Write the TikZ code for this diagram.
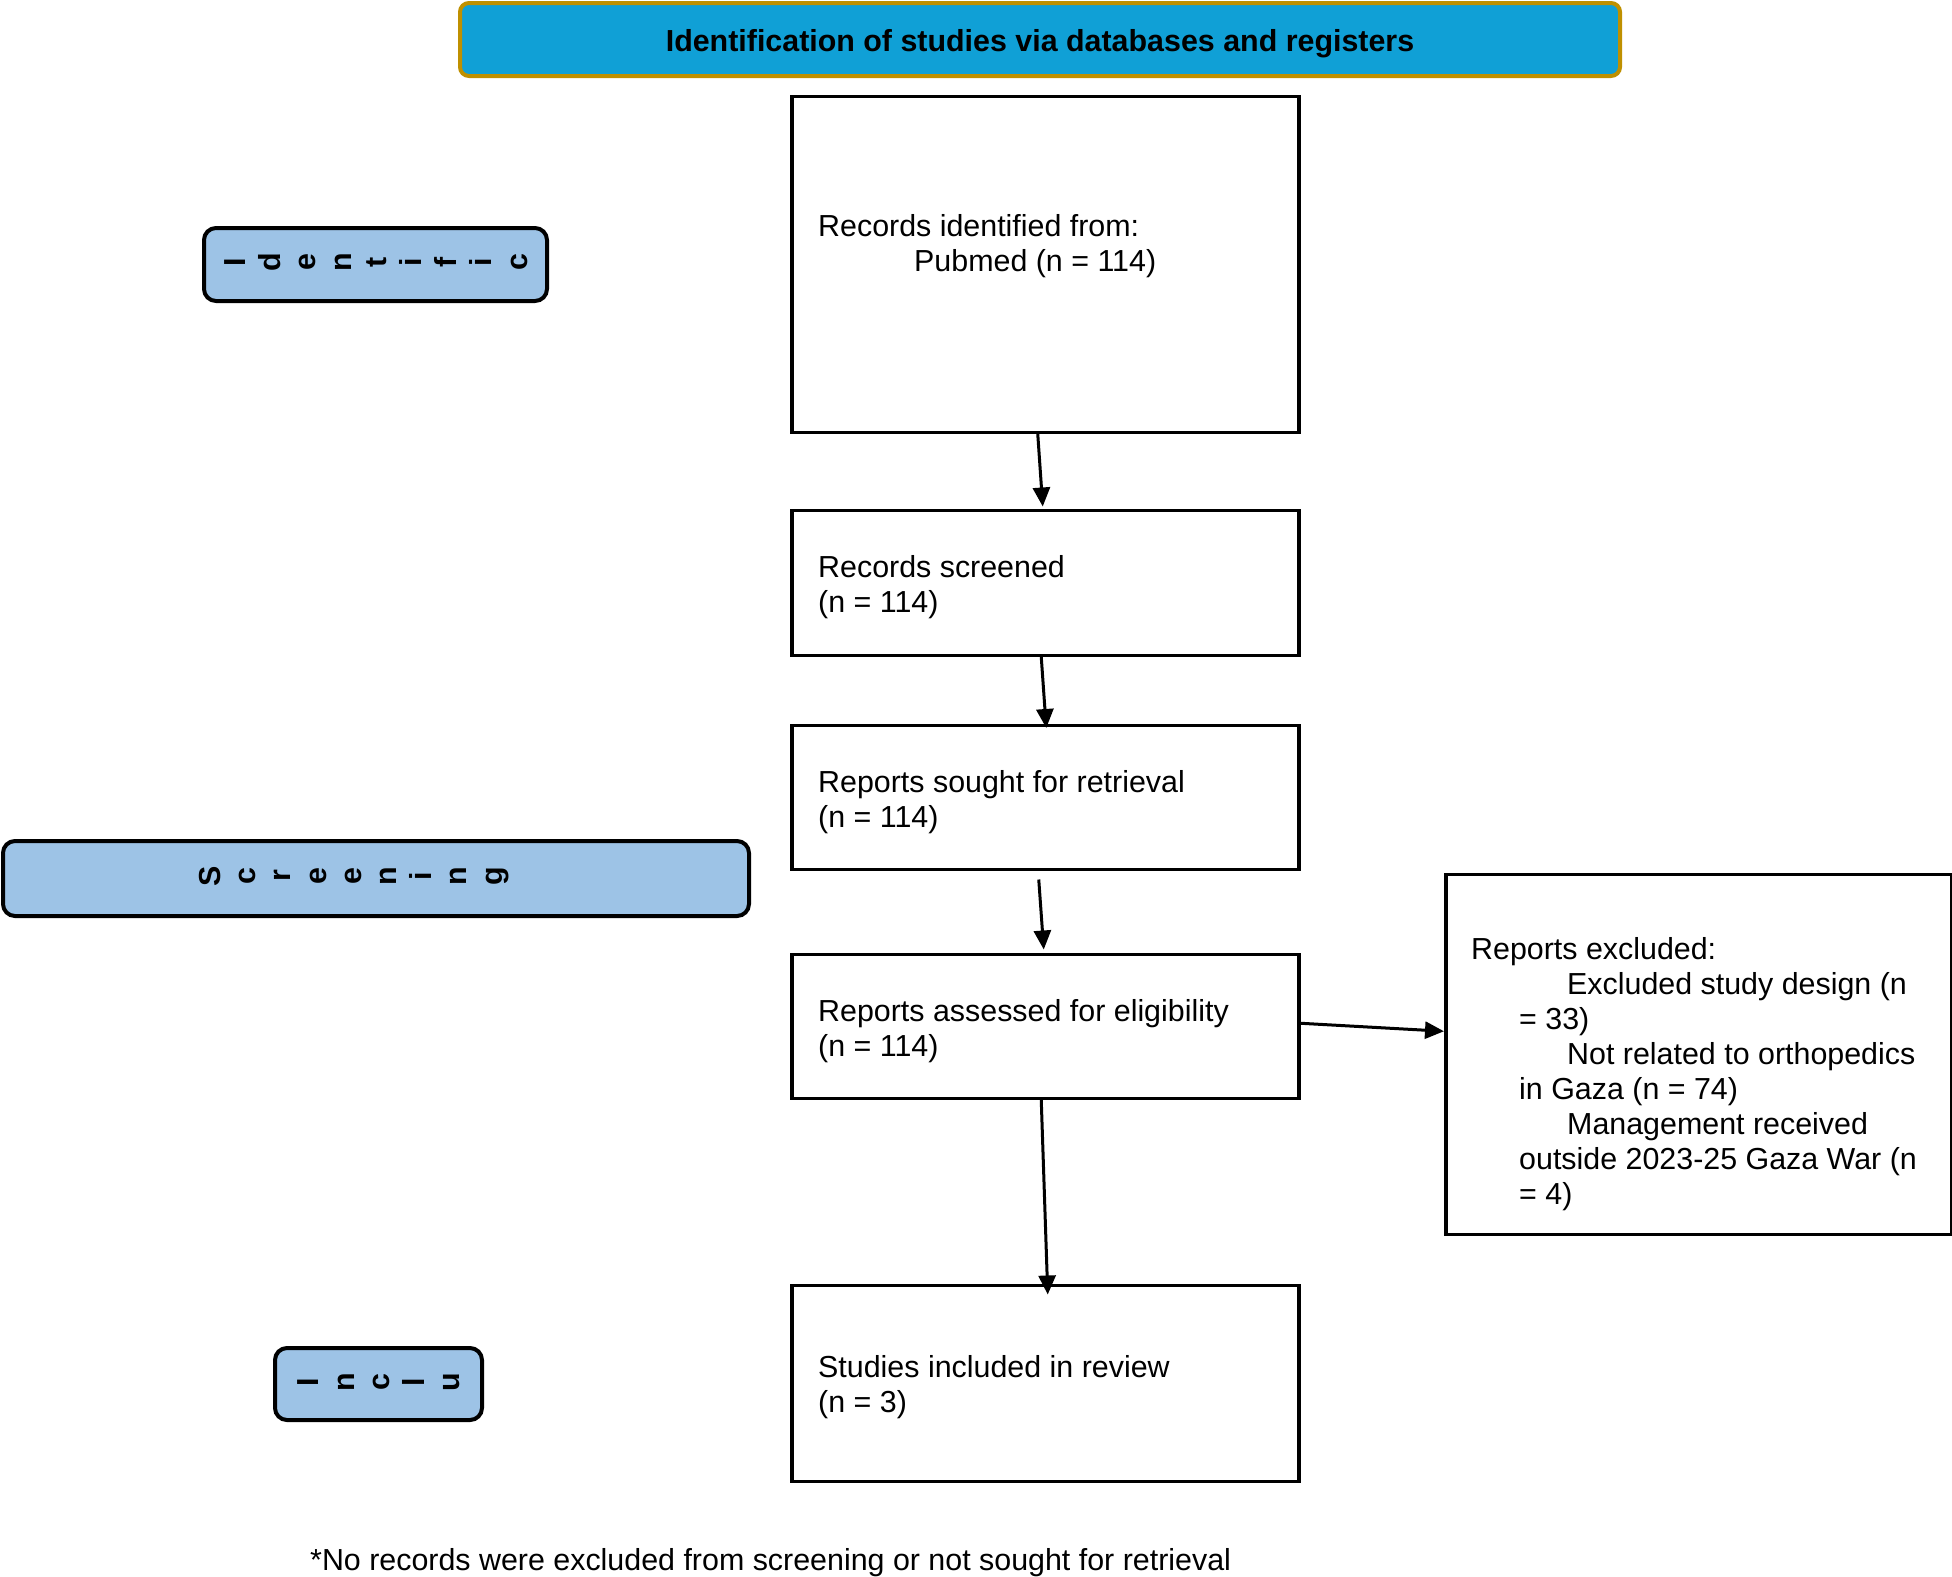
\documentclass[tikz,border=0pt]{standalone}
\usepackage{fontspec}
\setmainfont{Liberation Sans}
\usetikzlibrary{arrows.meta,calc}
\definecolor{hdrfill}{RGB}{16,160,214}
\definecolor{hdrline}{RGB}{191,144,0}
\definecolor{sidefill}{RGB}{157,195,230}
\begin{document}
\begin{tikzpicture}[x=1pt,y=-1pt,
  box/.style={draw=black,line width=3.5pt,anchor=north west,inner sep=0pt},
  hdr/.style={draw=hdrline,fill=hdrfill,line width=4pt,rounded corners=9pt,anchor=north west,inner sep=0pt,text height=30pt,text depth=6pt,font=\fontsize{30.4}{35}\selectfont\bfseries},
  side/.style={draw=black,fill=sidefill,line width=4pt,rounded corners=12pt,anchor=north west,inner sep=0pt},
  vtxt/.style={rotate=90,align=center,inner sep=0pt,font=\fontsize{30.4}{35.2}\selectfont\bfseries},
  txt/.style={anchor=base west,inner sep=0pt,font=\fontsize{30.4}{35}\selectfont},
  arr/.style={line width=3pt,-{Triangle[length=19pt,width=17pt]}}]
\useasboundingbox (0,0) rectangle (1952,1577);

% header
\node[hdr,minimum width=1160pt,minimum height=73pt] (hdr) at (458,1) {Identification of studies via databases and registers};

% side labels
\node[side,minimum width=343pt,minimum height=73pt] (sid) at (202,226) {};
\node[vtxt] (sidt) at (376,262) {I\\d\\e\\n\\t\\i\\f\\i\\c};
\node[side,minimum width=746pt,minimum height=75pt] (sscr) at (1,839) {};
\node[vtxt] (sscrt) at (354,876) {S\\c\\r\\e\\e\\n\\i\\n\\g};
\node[side,minimum width=207pt,minimum height=72pt] (sinc) at (273,1346) {};
\node[vtxt] (sinct) at (379,1382) {I\\n\\c\\l\\u};

% main boxes
\node[box,minimum width=507pt,minimum height=336pt] (b1) at (790,94.5) {};
\node[box,minimum width=507pt,minimum height=145pt] (b2) at (790,508.5) {};
\node[box,minimum width=507pt,minimum height=144pt] (b3) at (790,723.5) {};
\node[box,minimum width=507pt,minimum height=144pt] (b4) at (790,952.5) {};
\node[box,minimum width=507pt,minimum height=196pt] (b5) at (790,1283.5) {};
\node[box,minimum width=506pt,minimum height=360pt] (ex) at (1444,872.5) {};

% texts
\node[txt] (t1a) at (818,236) {Records identified from:};
\node[txt] (t1b) at (914,271) {Pubmed (n = 114)};
\node[txt] (t2a) at (818,577) {Records screened};
\node[txt] (t2b) at (818,612) {(n = 114)};
\node[txt] (t3a) at (818,792) {Reports sought for retrieval};
\node[txt] (t3b) at (818,827) {(n = 114)};
\node[txt] (t4a) at (818,1021) {Reports assessed for eligibility};
\node[txt] (t4b) at (818,1056) {(n = 114)};
\node[txt] (t5a) at (818,1377) {Studies included in review};
\node[txt] (t5b) at (818,1412) {(n = 3)};
\node[txt] (e1) at (1471,959) {Reports excluded:};
\node[txt] (e2) at (1567,994) {Excluded study design (n};
\node[txt] (e3) at (1519,1029) {= 33)};
\node[txt] (e4) at (1567,1064) {Not related to orthopedics};
\node[txt] (e5) at (1519,1099) {in Gaza (n = 74)};
\node[txt] (e6) at (1567,1134) {Management received};
\node[txt] (e7) at (1519,1169) {outside 2023-25 Gaza War (n};
\node[txt] (e8) at (1519,1204) {= 4)};
\node[txt] (foot) at (310,1570) {*No records were excluded from screening or not sought for retrieval};

% arrows
\draw[arr] ($(b1.south)+(-7.5,0)$) -- ($(b2.north)+(-2.5,-2)$);
\draw[arr] ($(b2.south)+(-4,0)$) -- ($(b3.north)+(1,4.5)$);
\draw[arr] ($(b3.south)+(-6.5,8.5)$) -- ($(b4.north)+(-1.5,-3)$);
\draw[arr] ($(b4.south)+(-4,0)$) -- ($(b5.north)+(2.5,11)$);
\draw[arr] ($(b4.east)+(0,-3)$) -- ($(ex.west)+(0,-23)$);
\end{tikzpicture}
\end{document}
